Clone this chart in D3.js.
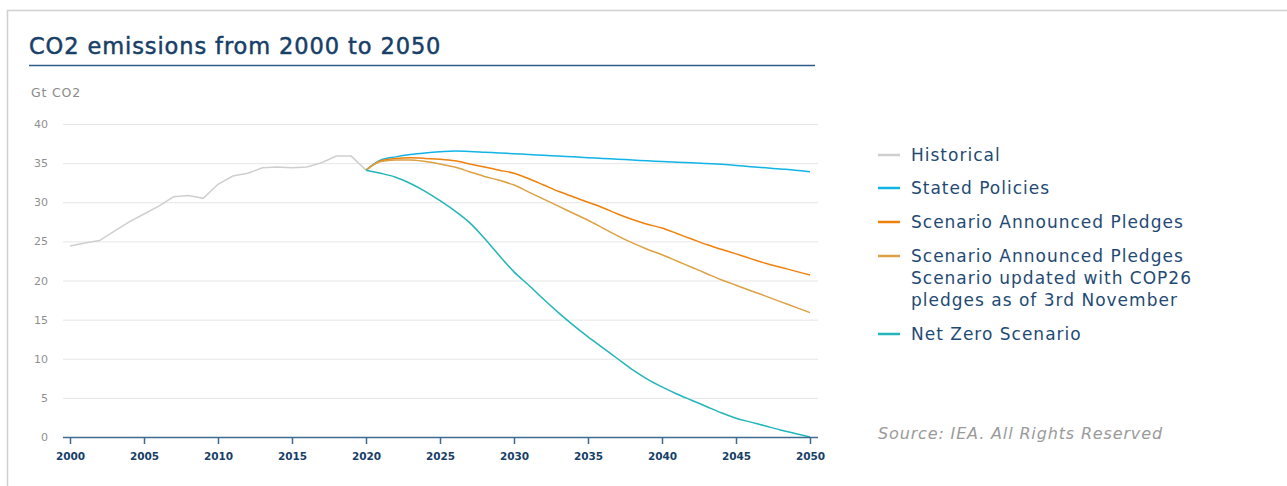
<!DOCTYPE html>
<html>
<head>
<meta charset="utf-8">
<script src="https://cdn.jsdelivr.net/npm/d3@7"></script>
<style>
  body { margin: 0; background: #fff; }
  svg { font-family: "DejaVu Sans", "Noto Sans", sans-serif; }
</style>
</head>
<body>
<svg width="1287" height="486"></svg>
<script>
// data
var histYears = d3.range(2000, 2021);
var historical = [24.4, 24.8, 25.1, 26.3, 27.5, 28.5, 29.5, 30.7, 30.85, 30.5, 32.3, 33.35, 33.7, 34.4, 34.5, 34.4, 34.5, 35.05, 35.9, 35.9, 34.1];

var scenYears = d3.range(2020, 2051);
var statedPolicies = [34.1, 35.4, 35.8, 36.1, 36.3, 36.45, 36.55, 36.5, 36.4, 36.3, 36.2, 36.1, 36.0, 35.9, 35.8, 35.7, 35.6, 35.5, 35.4, 35.3, 35.2, 35.1, 35.05, 34.95, 34.85, 34.7, 34.55, 34.4, 34.25, 34.1, 33.9];
var announcedPledges = [34.1, 35.3, 35.6, 35.7, 35.6, 35.5, 35.3, 34.9, 34.5, 34.1, 33.7, 33.0, 32.2, 31.4, 30.7, 30.0, 29.3, 28.5, 27.8, 27.2, 26.7, 26.0, 25.3, 24.6, 24.0, 23.4, 22.8, 22.2, 21.7, 21.2, 20.7];
var pledgesCop26 = [34.1, 35.2, 35.4, 35.4, 35.2, 34.9, 34.5, 33.9, 33.3, 32.8, 32.2, 31.3, 30.4, 29.5, 28.6, 27.7, 26.7, 25.7, 24.8, 24.0, 23.3, 22.5, 21.7, 20.9, 20.1, 19.4, 18.7, 18.0, 17.3, 16.6, 15.9];
var netZero = [34.1, 33.7, 33.2, 32.4, 31.4, 30.2, 28.9, 27.4, 25.4, 23.2, 21.1, 19.4, 17.6, 15.9, 14.3, 12.8, 11.4, 10.0, 8.6, 7.4, 6.4, 5.5, 4.7, 3.9, 3.1, 2.4, 1.9, 1.4, 0.9, 0.45, 0.0];

var xTicks = [2000, 2005, 2010, 2015, 2020, 2025, 2030, 2035, 2040, 2045, 2050];
var yTicks = [0, 5, 10, 15, 20, 25, 30, 35, 40];

var seriesColors = ['#cfcfcf', '#12b3e6', '#f0800c', '#dba143', '#22b5b9'];

var legendLines = [
  ['Historical'],
  ['Stated Policies'],
  ['Scenario Announced Pledges'],
  ['Scenario Announced Pledges', 'Scenario updated with COP26', 'pledges as of 3rd November'],
  ['Net Zero Scenario']
];

var svg = d3.select('svg');
var navy = '#173f68';

// frame
svg.append('path')
  .attr('d', 'M7.5,486 V10.5 H1287')
  .attr('fill', 'none')
  .attr('stroke', '#d0d0d0')
  .attr('stroke-width', 1.5);

// title
svg.append('text')
  .text('CO2 emissions from 2000 to 2050')
  .attr('x', 29).attr('y', 54)
  .attr('fill', navy)
  .attr('stroke', navy)
  .attr('stroke-width', 0.5)
  .style('font-size', '22.5px')
  .style('letter-spacing', '0.9px');

svg.append('line')
  .attr('x1', 29).attr('x2', 815)
  .attr('y1', 65.5).attr('y2', 65.5)
  .attr('stroke', '#2e5c87')
  .attr('stroke-width', 1.6);

svg.append('text')
  .text('Gt CO2')
  .attr('x', 31).attr('y', 97)
  .attr('fill', '#8a8a8a')
  .style('font-size', '12.5px')
  .style('letter-spacing', '0.8px');

var xScale = d3.scaleLinear().domain([2000, 2050]).range([70, 810]);
var yScale = d3.scaleLinear().domain([0, 40]).range([437, 124]);

// gridlines
svg.append('g')
  .selectAll('line')
  .data(yTicks.filter(function(d) { return d > 0; }))
  .enter().append('line')
  .attr('x1', 63).attr('x2', 818)
  .attr('y1', function(d) { return yScale(d) + 0.5; })
  .attr('y2', function(d) { return yScale(d) + 0.5; })
  .attr('stroke', '#e6e6e6')
  .attr('stroke-width', 1);

// y labels
svg.append('g')
  .selectAll('text')
  .data(yTicks)
  .enter().append('text')
  .text(function(d) { return d; })
  .attr('x', 48)
  .attr('y', function(d) { return yScale(d) + 4; })
  .attr('text-anchor', 'end')
  .attr('fill', '#8f8f8f')
  .style('font-size', '11px');

// lines
var histLine = d3.line()
  .x(function(d) { return xScale(d[0]); })
  .y(function(d) { return yScale(d[1]); });
var scenLine = d3.line()
  .x(function(d) { return xScale(d[0]); })
  .y(function(d) { return yScale(d[1]); })
  .curve(d3.curveMonotoneX);

var allSeries = [
  d3.zip(histYears, historical),
  d3.zip(scenYears, statedPolicies),
  d3.zip(scenYears, announcedPledges),
  d3.zip(scenYears, pledgesCop26),
  d3.zip(scenYears, netZero)
];

svg.append('g')
  .selectAll('path')
  .data(allSeries)
  .enter().append('path')
  .attr('d', function(d, i) { return i === 0 ? histLine(d) : scenLine(d); })
  .attr('fill', 'none')
  .attr('stroke', function(d, i) { return seriesColors[i]; })
  .attr('stroke-width', 1.5);

// x axis
var xAxis = svg.append('g')
  .attr('transform', 'translate(0,' + 437 + ')')
  .call(d3.axisBottom(xScale).tickValues(xTicks).tickFormat(d3.format('d')).tickSize(7).tickSizeOuter(0));
xAxis.select('.domain')
  .attr('d', 'M63,0.5H818')
  .attr('stroke', '#3f6a91')
  .attr('stroke-width', 1.5);
xAxis.selectAll('.tick line')
  .attr('stroke', '#3f6a91')
  .attr('stroke-width', 1.5);
xAxis.selectAll('.tick text')
  .attr('y', 16)
  .attr('fill', navy)
  .style('font-family', '"DejaVu Sans", sans-serif')
  .style('font-size', '10.5px')
  .style('font-weight', 700);

// legend
var legendY = [155, 188, 222, 256, 334];
var legend = svg.append('g');
legendLines.forEach(function(lines, i) {
  legend.append('line')
    .attr('x1', 878).attr('x2', 900)
    .attr('y1', legendY[i]).attr('y2', legendY[i])
    .attr('stroke', seriesColors[i])
    .attr('stroke-width', 2.5);
  var t = legend.append('text')
    .attr('x', 911)
    .attr('y', legendY[i] + 6)
    .attr('fill', '#1f4a74')
    .style('font-size', '17px')
    .style('letter-spacing', '1px');
  lines.forEach(function(s, j) {
    t.append('tspan')
      .attr('x', 911)
      .attr('dy', j === 0 ? 0 : 22)
      .text(s);
  });
});

svg.append('text')
  .text('Source: IEA. All Rights Reserved')
  .attr('x', 878).attr('y', 439)
  .attr('fill', '#9a9a9a')
  .style('font-size', '16px')
  .style('font-style', 'italic')
  .style('letter-spacing', '0.85px');
</script>
</body>
</html>
